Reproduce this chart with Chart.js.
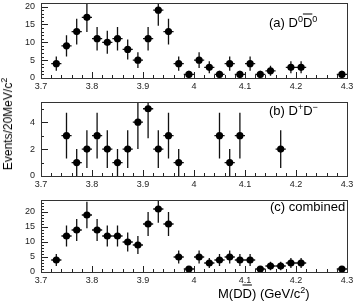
<!DOCTYPE html>
<html>
<head>
<meta charset="utf-8">
<script src="https://cdn.jsdelivr.net/npm/chart.js@4.4.1/dist/chart.umd.min.js"></script>
<style>
  body { margin: 0; background: #fff; width: 354px; height: 304px; overflow: hidden; position: relative;
         font-family: "Liberation Sans", Arial, sans-serif; color: #000; }
  canvas { position: absolute; left: 0; }
  .lbl { position: absolute; font-size: 13px; white-space: nowrap; transform: translateY(-50%); }
  .ov { text-decoration: overline; }
  sup { font-size: 9px; vertical-align: 5px; line-height: 0; }
  #ytitle { position: absolute; left: 8px; top: 124px; font-size: 12px; white-space: nowrap;
            transform: translate(-50%, -50%) rotate(-90deg); }
</style>
</head>
<body>
<canvas id="panelA" width="354" height="93" style="top:-1px"></canvas>
<canvas id="panelB" width="354" height="92" style="top:98px"></canvas>
<canvas id="panelC" width="354" height="90" style="top:196px"></canvas>

<div class="lbl" style="left:269px;top:22px">(a) D<sup>0</sup><span class="ov">D</span><sup>0</sup></div>
<div class="lbl" style="left:269px;top:110px">(b) D<sup>+</sup>D<sup>&minus;</sup></div>
<div class="lbl" style="left:270px;top:206px">(c) combined</div>
<div class="lbl" style="left:218px;top:293px">M(D<span class="ov">D</span>) (GeV/c<sup>2</sup>)</div>
<div id="ytitle">Events/20MeV/c<sup>2</sup></div>

<script>
// bin centres, 20 MeV bins from 3.70 to 4.30 GeV
const binCenters = [3.71, 3.73, 3.75, 3.77, 3.79, 3.81, 3.83, 3.85, 3.87, 3.89,
                    3.91, 3.93, 3.95, 3.97, 3.99, 4.01, 4.03, 4.05, 4.07, 4.09,
                    4.11, 4.13, 4.15, 4.17, 4.19, 4.21, 4.23, 4.25, 4.27, 4.29];
const binHalfWidth = 0.01;

// (a) D0 D0bar
const countsA = [0, 4, 9, 13, 17, 11, 10, 11, 8, 5, 11, 19, 13, 4, 1, 5, 3, 1, 4, 1, 4, 1, 2, 0, 3, 3, 0, 0, 0, 1];
const errorsA = [0, 2, 3, 3.6, 4.1, 3.3, 3.2, 3.3, 2.8, 2.2, 3.3, 4.4, 3.6, 2, 1, 2.2, 1.7, 1, 2, 1, 2, 1, 1.4, 0, 1.7, 1.7, 0, 0, 0, 1];
// (b) D+ D-
const countsB = [0, 0, 3, 1, 2, 3, 2, 1, 2, 4, 5, 2, 3, 1, 0, 0, 0, 3, 1, 3, 0, 0, 0, 2, 0, 0, 0, 0, 0, 0];
const errorsB = [0, 0, 1.7, 1, 1.4, 1.7, 1.4, 1, 1.4, 2, 2.2, 1.4, 1.7, 1, 0, 0, 0, 1.7, 1, 1.7, 0, 0, 0, 1.4, 0, 0, 0, 0, 0, 0];
// (c) combined
const countsC = [0, 4, 12, 14, 19, 14, 12, 12, 10, 9, 16, 21, 16, 5, 1, 5, 3, 4, 5, 4, 4, 1, 2, 2, 3, 3, 0, 0, 0, 1];
const errorsC = [0, 2, 3.5, 3.7, 4.4, 3.7, 3.5, 3.5, 3.2, 3, 4, 4.6, 4, 2.2, 1, 2.2, 1.7, 2, 2.2, 2, 2, 1, 1.4, 1.4, 1.7, 1.7, 0, 0, 0, 1];

const xMin = 3.7, xMax = 4.3;
const xMajor = 0.1, xMinor = 0.02;

// ROOT-like frame, inward ticks and error bars
const histPlugin = {
  id: "hist",
  beforeDatasetsDraw(chart) {
    const ctx = chart.ctx, a = chart.chartArea;
    const xs = chart.scales.x, ys = chart.scales.y;
    ctx.save();
    ctx.beginPath();
    ctx.rect(a.left, a.top, a.right - a.left, a.bottom - a.top);
    ctx.clip();
    ctx.strokeStyle = "#111";
    ctx.lineWidth = 1.3;
    chart.data.datasets[0].data.forEach((p) => {
      const px = xs.getPixelForValue(p.x);
      const py = ys.getPixelForValue(p.y);
      ctx.beginPath();
      ctx.moveTo(xs.getPixelForValue(p.x - binHalfWidth), py);
      ctx.lineTo(xs.getPixelForValue(p.x + binHalfWidth), py);
      ctx.moveTo(px, ys.getPixelForValue(Math.max(0, p.y - p.e)));
      ctx.lineTo(px, ys.getPixelForValue(p.y + p.e));
      ctx.stroke();
    });
    ctx.restore();
  },
  afterDraw(chart, args, opts) {
    const ctx = chart.ctx, a = chart.chartArea;
    const xs = chart.scales.x, ys = chart.scales.y;
    ctx.save();
    ctx.strokeStyle = "#222";
    ctx.lineWidth = 1;
    ctx.beginPath();
    const nx = Math.round((xMax - xMin) / xMinor);
    for (let i = 0; i <= nx; i++) {
      const v = xMin + i * xMinor;
      const px = Math.round(xs.getPixelForValue(v)) + 0.5;
      const len = i % 5 === 0 ? 6 : 3;
      ctx.moveTo(px, a.bottom);
      ctx.lineTo(px, a.bottom - len);
    }
    const ny = Math.floor(opts.yMax / opts.yMinor + 1e-6);
    const ratio = Math.round(opts.yMajor / opts.yMinor);
    for (let i = 0; i <= ny; i++) {
      const v = i * opts.yMinor;
      const py = Math.round(ys.getPixelForValue(v)) + 0.5;
      const len = i % ratio === 0 ? 7 : 3;
      ctx.moveTo(a.left, py);
      ctx.lineTo(a.left + len, py);
    }
    ctx.stroke();
    ctx.strokeStyle = "#333";
    ctx.strokeRect(Math.round(a.left) + 0.5, Math.round(a.top) + 0.5,
                   Math.round(a.right - a.left), Math.round(a.bottom - a.top));
    ctx.restore();
  }
};

function makePanel(id, counts, errors, yMax, yMajor, yMinor) {
  const points = binCenters
    .map((x, i) => ({ x: x, y: counts[i], e: errors[i] }))
    .filter((p) => p.y > 0);
  return new Chart(document.getElementById(id), {
    type: "scatter",
    data: {
      datasets: [{
        data: points,
        pointRadius: 3.6,
        pointBackgroundColor: "#000",
        pointBorderColor: "#000",
        pointBorderWidth: 0,
      }],
    },
    options: {
      responsive: false,
      animation: false,
      layout: { padding: { top: 1, right: 7, left: 0, bottom: 0 } },
      plugins: {
        legend: { display: false },
        tooltip: { enabled: false },
        hist: { yMax: yMax, yMajor: yMajor, yMinor: yMinor },
      },
      scales: {
        x: {
          type: "linear",
          min: xMin,
          max: xMax,
          grid: { display: false, drawTicks: false },
          border: { display: false },
          afterFit: (s) => { s.height = 14; s.paddingLeft = 0; s.paddingRight = 0; },
          ticks: {
            stepSize: xMajor,
            padding: 3,
            maxRotation: 0,
            autoSkip: false,
            color: "#222",
            font: { family: "Liberation Sans", size: 9 },
            callback: (v) => String(+(+v).toFixed(1)),
          },
        },
        y: {
          min: 0,
          max: yMax,
          grid: { display: false, drawTicks: false },
          border: { display: false },
          afterFit: (s) => { s.width = 41; s.paddingTop = 0; s.paddingBottom = 0; },
          ticks: {
            stepSize: yMajor,
            includeBounds: false,
            padding: 6,
            color: "#222",
            font: { family: "Liberation Sans", size: 9 },
          },
        },
      },
    },
    plugins: [histPlugin],
  });
}

makePanel("panelA", countsA, errorsA, 21, 5, 1);
makePanel("panelB", countsB, errorsB, 5.5, 2, 1);
makePanel("panelC", countsC, errorsC, 24, 5, 1);
</script>
</body>
</html>
